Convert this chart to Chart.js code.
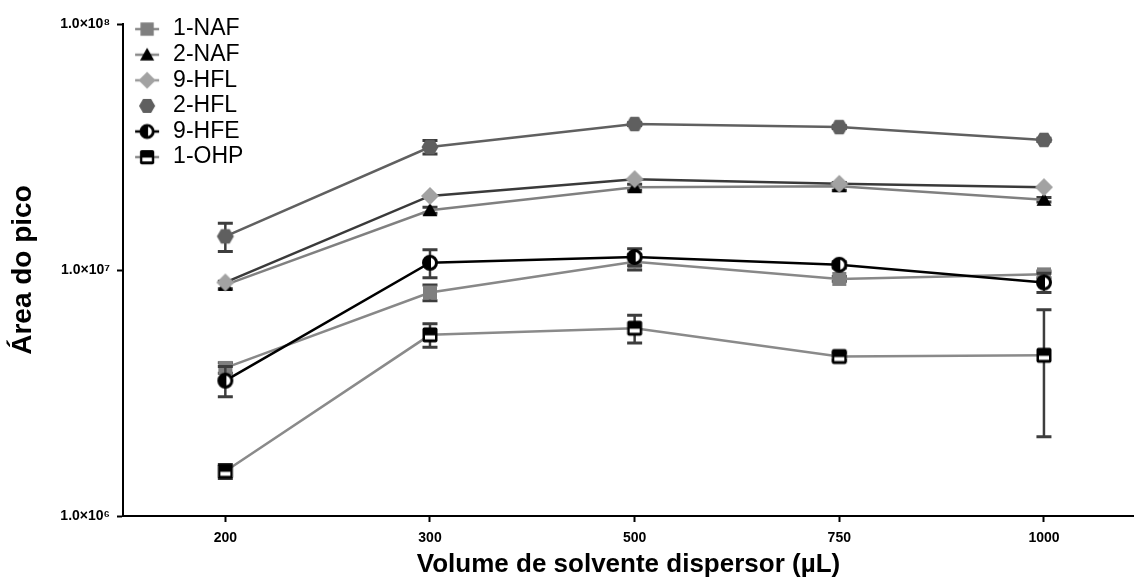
<!DOCTYPE html>
<html>
<head>
<meta charset="utf-8">
<script src="https://cdn.jsdelivr.net/npm/chart.js@4.4.1/dist/chart.umd.min.js"></script>
<style>
  html, body { margin: 0; padding: 0; background: #fff; }
  #wrap { width: 1134px; height: 582px; }
</style>
</head>
<body>
<div id="wrap"><canvas id="chart" width="1134" height="582"></canvas></div>
<script>
// Dispersant solvent volume (µL)
const categories = ['200', '300', '500', '750', '1000'];

// Peak areas (mean) and standard deviations per analyte
const naf1    = [4.0e6, 8.1e6, 1.08e7, 9.2e6, 9.6e6];
const naf1Err = [0.2e6, 0.6e6, 0.8e6, 0.2e6, 0.3e6];

const naf2    = [8.7e6, 1.75e7, 2.17e7, 2.19e7, 1.93e7];
const naf2Err = [0.3e6, 0.5e6, 0.6e6, 0.8e6, 0.4e6];

const hfl9    = [8.9e6, 2.0e7, 2.34e7, 2.24e7, 2.17e7];
const hfl9Err = [0, 0, 0, 0, 0];

const hfl2    = [1.37e7, 3.16e7, 3.92e7, 3.81e7, 3.38e7];
const hfl2Err = [1.8e6, 2.0e6, 0.5e6, 0.5e6, 0.5e6];

const hfe9    = [3.55e6, 1.07e7, 1.13e7, 1.05e7, 8.9e6];
const hfe9Err = [0.5e6, 1.4e6, 0.9e6, 0.3e6, 0.8e6];

const ohp1    = [1.52e6, 5.45e6, 5.8e6, 4.45e6, 4.5e6];
const ohp1Err = [0.1e6, 0.6e6, 0.75e6, 0.15e6, 2.4e6];

const yTickValues = [1e6, 1e7, 1e8];
const yTickLabels = ['1.0×10⁶', '1.0×10⁷', '1.0×10⁸'];

const FONT = "'Liberation Sans', Arial, Helvetica, sans-serif";

// ---------- marker shapes ----------
function drawSquare(ctx, cx, cy, s) {
  ctx.fillStyle = '#7f7f7f';
  ctx.fillRect(cx - 7 * s, cy - 7 * s, 14 * s, 14 * s);
}
function drawTriangle(ctx, cx, cy, s) {
  ctx.fillStyle = '#000';
  ctx.beginPath();
  ctx.moveTo(cx, cy - 7.5 * s);
  ctx.lineTo(cx + 7.5 * s, cy + 6 * s);
  ctx.lineTo(cx - 7.5 * s, cy + 6 * s);
  ctx.closePath();
  ctx.fill();
}
function drawDiamond(ctx, cx, cy, s) {
  ctx.fillStyle = '#a2a2a2';
  ctx.beginPath();
  ctx.moveTo(cx, cy - 9 * s);
  ctx.lineTo(cx + 9 * s, cy);
  ctx.lineTo(cx, cy + 9 * s);
  ctx.lineTo(cx - 9 * s, cy);
  ctx.closePath();
  ctx.fill();
}
function drawHexagon(ctx, cx, cy, s) {
  ctx.fillStyle = '#5f5f5f';
  ctx.beginPath();
  for (let k = 0; k < 6; k++) {
    const a = Math.PI / 3 * k;
    const px = cx + 8.5 * s * Math.cos(a);
    const py = cy + 8.5 * s * Math.sin(a);
    if (k === 0) ctx.moveTo(px, py); else ctx.lineTo(px, py);
  }
  ctx.closePath();
  ctx.fill();
}
function drawHalfCircle(ctx, cx, cy, s) {
  const r = 6.5 * s;
  ctx.fillStyle = '#fff';
  ctx.beginPath(); ctx.arc(cx, cy, r, 0, Math.PI * 2); ctx.fill();
  ctx.fillStyle = '#000';
  ctx.beginPath();
  ctx.moveTo(cx, cy);
  ctx.arc(cx, cy, r, Math.PI / 2, Math.PI * 1.5);
  ctx.closePath();
  ctx.fill();
  ctx.strokeStyle = '#000';
  ctx.lineWidth = 3 * s;
  ctx.beginPath(); ctx.arc(cx, cy, r, 0, Math.PI * 2); ctx.stroke();
  ctx.lineWidth = 2 * s;
  ctx.beginPath(); ctx.moveTo(cx, cy - r); ctx.lineTo(cx, cy + r); ctx.stroke();
}
function drawBoxedSquare(ctx, cx, cy, s) {
  const h = 7.5 * s;
  ctx.fillStyle = '#000';
  ctx.beginPath();
  ctx.roundRect(cx - h, cy - h, 2 * h, 2 * h, 2 * s);
  ctx.fill();
  ctx.fillStyle = '#fff';
  ctx.fillRect(cx - 5 * s, cy + 0.5 * s, 10 * s, 4 * s);
}

function markerImage(fn) {
  const c = document.createElement('canvas');
  c.width = 22; c.height = 22;
  fn(c.getContext('2d'), 11, 11, 1);
  return c;
}
function legendImage(fn, lineColor) {
  const c = document.createElement('canvas');
  c.width = 28; c.height = 22;
  const ctx = c.getContext('2d');
  if (lineColor) {
    ctx.strokeStyle = lineColor;
    ctx.lineWidth = 2.5;
    ctx.beginPath(); ctx.moveTo(2, 11); ctx.lineTo(26, 11); ctx.stroke();
  }
  fn(ctx, 14, 11, 0.95);
  return c;
}

const series = [
  { name: '1-NAF', values: naf1, errors: naf1Err, line: '#888888', shape: drawSquare,      legendLine: '#8a8a8a' },
  { name: '2-NAF', values: naf2, errors: naf2Err, line: '#808080', shape: drawTriangle,    legendLine: '#8a8a8a' },
  { name: '9-HFL', values: hfl9, errors: hfl9Err, line: '#3a3a3a', shape: drawDiamond,     legendLine: '#9a9a9a' },
  { name: '2-HFL', values: hfl2, errors: hfl2Err, line: '#606060', shape: drawHexagon,     legendLine: null },
  { name: '9-HFE', values: hfe9, errors: hfe9Err, line: '#000000', shape: drawHalfCircle,  legendLine: '#000000' },
  { name: '1-OHP', values: ohp1, errors: ohp1Err, line: '#8a8a8a', shape: drawBoxedSquare, legendLine: '#8a8a8a' }
];

const datasets = series.map((s, i) => ({
  label: s.name,
  data: s.values.map((v, k) => ({ x: k, y: v })),
  errors: s.errors,
  borderColor: s.line,
  backgroundColor: s.line,
  borderWidth: 2.5,
  pointStyle: markerImage(s.shape),
  pointRadius: 7,
  pointHoverRadius: 7,
  tension: 0,
  clip: false,
  order: -i
}));
const legendIcons = series.map(s => legendImage(s.shape, s.legendLine));

// Vertical error bars, drawn under each series' own line and markers
const errorBars = {
  id: 'errorBars',
  beforeDatasetDraw(chart, args) {
    const ds = chart.data.datasets[args.index];
    if (!ds.errors) return;
    const yScale = chart.scales.y;
    const ctx = chart.ctx;
    ctx.save();
    ctx.strokeStyle = '#3d3d3d';
    args.meta.data.forEach((pt, k) => {
      const e = ds.errors[k];
      if (!e) return;
      const v = ds.data[k].y;
      const yTop = yScale.getPixelForValue(v + e);
      const yBot = yScale.getPixelForValue(v - e);
      ctx.lineWidth = 2.5;
      ctx.beginPath(); ctx.moveTo(pt.x, yTop); ctx.lineTo(pt.x, yBot); ctx.stroke();
      ctx.lineWidth = 3;
      ctx.beginPath();
      ctx.moveTo(pt.x - 7.5, yTop); ctx.lineTo(pt.x + 7.5, yTop);
      ctx.moveTo(pt.x - 7.5, yBot); ctx.lineTo(pt.x + 7.5, yBot);
      ctx.stroke();
    });
    ctx.restore();
  }
};

// Legend sits in the upper-left corner of the plot area
const legendPlace = {
  id: 'legendPlace',
  afterLayout(chart) {
    const lg = chart.legend;
    if (!lg) return;
    const dx = 130 - lg.left, dy = 15 - lg.top;
    lg.left += dx; lg.right += dx;
    lg.top += dy;
  }
};

new Chart(document.getElementById('chart'), {
  type: 'line',
  data: { datasets },
  plugins: [errorBars, legendPlace],
  options: {
    responsive: false,
    animation: false,
    devicePixelRatio: 1,
    layout: { autoPadding: false, padding: { top: 24, left: 0, right: 0, bottom: 0 } },
    plugins: {
      tooltip: { enabled: false },
      legend: {
        position: 'chartArea',
        align: 'start',
        labels: {
          usePointStyle: true,
          pointStyleWidth: 29,
          padding: 2.6,
          color: '#000',
          font: { family: FONT, size: 23 },
          generateLabels: () => series.map((s, i) => ({
            text: s.name,
            pointStyle: legendIcons[i],
            fillStyle: 'transparent',
            strokeStyle: 'transparent',
            lineWidth: 0,
            fontColor: '#000',
            hidden: false,
            datasetIndex: i
          }))
        }
      }
    },
    scales: {
      x: {
        type: 'linear',
        min: -0.5,
        max: 4.44,
        afterBuildTicks: s => { s.ticks = categories.map((c, i) => ({ value: i })); },
        afterFit: s => { s.height = 66; s.paddingLeft = 0; s.paddingRight = 0; },
        ticks: {
          autoSkip: false,
          maxRotation: 0,
          padding: 8,
          color: '#000',
          font: { family: FONT, size: 14, weight: 'bold' },
          callback: (v, i) => categories[i]
        },
        grid: {
          drawOnChartArea: false,
          drawTicks: true,
          tickLength: 6,
          tickWidth: 2,
          tickColor: '#000'
        },
        border: { display: true, color: '#000', width: 2 },
        title: {
          display: true,
          text: 'Volume de solvente dispersor (µL)',
          color: '#000',
          font: { family: FONT, size: 26, weight: 'bold' },
          padding: { top: 0, bottom: 2 }
        }
      },
      y: {
        type: 'logarithmic',
        min: 1e6,
        max: 1e8,
        afterBuildTicks: s => { s.ticks = yTickValues.map(v => ({ value: v })); },
        afterFit: s => { s.width = 123; },
        ticks: {
          autoSkip: false,
          padding: 7,
          color: '#000',
          font: { family: FONT, size: 14, weight: 'bold' },
          callback: (v, i) => yTickLabels[i]
        },
        grid: {
          drawOnChartArea: false,
          drawTicks: true,
          tickLength: 6,
          tickWidth: 2,
          tickColor: '#000'
        },
        border: { display: true, color: '#000', width: 2 },
        title: {
          display: true,
          text: 'Área do pico',
          color: '#000',
          font: { family: FONT, size: 28, weight: 'bold' },
          padding: { top: 6, bottom: 0 }
        }
      }
    }
  }
});
</script>
</body>
</html>
